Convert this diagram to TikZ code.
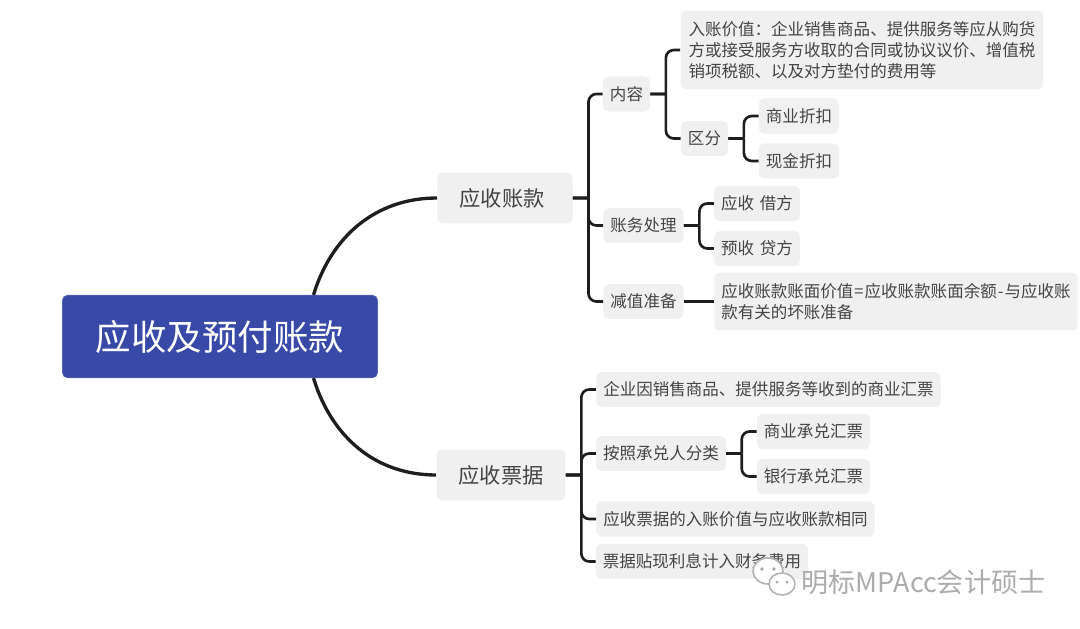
\documentclass[tikz,border=0pt]{standalone}
\usepackage{fontspec}
\setmainfont{Noto Sans CJK SC}
\usetikzlibrary{positioning, arrows}
\definecolor{rootblue}{HTML}{3949A8}
\definecolor{boxgray}{HTML}{F0F0F0}
\definecolor{textgray}{HTML}{444444}
\definecolor{linedark}{HTML}{1E1E1E}
\tikzset{
  leaf/.style={fill=boxgray, rounded corners=3pt, text=textgray, inner xsep=4pt, inner ysep=2pt,
    minimum height=20pt, align=left, font=\fontsize{9.4}{11.8}\selectfont},
  longleaf/.style={leaf, inner xsep=4.6pt, inner ysep=6.2pt},
  topic/.style={fill=boxgray, rounded corners=3pt, text=textgray, inner xsep=12.5pt,
    minimum height=29pt, font=\fontsize{12.1}{14}\selectfont},
  rootbox/.style={fill=rootblue, draw=rootblue!85!white, rounded corners=3pt, text=white, inner xsep=19pt,
    minimum height=47pt, font=\fontsize{20.2}{24}\selectfont},
  bracket/.style={line width=1.5pt, draw=linedark, rounded corners=4.5pt,
    to path={(\tikztostart) -- ++(15.5,0) (\tikztostart) ++(15.5,0) |- (\tikztotarget)}},
  bough/.style={line width=1.9pt, draw=linedark},
  wmark/.style={text=gray!65, font=\fontsize{15.4}{18}\selectfont},
  wicon/.style={draw=gray!60, fill=white, line width=0.9pt}
}
\begin{document}
\begin{tikzpicture}[x=0.02cm, y=-0.02cm]
\useasboundingbox (0,0) rectangle (1080,629);

\node[rootbox](R0) at (220,336.5) {应收及预付账款};
\node[topic, minimum width=77pt](A0) at (505,198) {应收账款\kern3.4pt};
\node[topic](B0) at (501,475) {应收票据};

\node[leaf](A1) at (626.5,94) {内容};
\node[longleaf](A2) at (862,50) {入账价值：企业销售商品、提供服务等应从购货\\方或接受服务方收取的合同或协议议价、增值税\\销项税额、以及对方垫付的费用等};
\node[leaf](A3) at (704.5,138.5) {区分};
\node[leaf](A4) at (799,116) {商业折扣};
\node[leaf](A5) at (799,161) {现金折扣};
\node[leaf](A6) at (643.5,225.5) {账务处理};
\node[leaf](A7) at (757,203.5) {应收 \hspace{1.1pt}借方};
\node[leaf](A8) at (757,248.5) {预收 \hspace{1.1pt}贷方};
\node[leaf](A9) at (643.5,301.5) {减值准备};
\node[longleaf, inner xsep=4pt](A10) at (896,301.5) {应收账款账面价值\kern.6pt=\kern.6pt应收账款账面余额\kern.6pt-\kern.6pt与应收账\\款有关的坏账准备};

\node[leaf](B1) at (768.5,389.5) {企业因销售商品、提供服务等收到的商业汇票};
\node[leaf](B2) at (661,453.5) {按照承兑人分类};
\node[leaf](B3) at (813.5,431.5) {商业承兑汇票};
\node[leaf](B4) at (813.5,476.5) {银行承兑汇票};
\node[leaf](B5) at (735.5,519) {应收票据的入账价值与应收账款相同};
\node[leaf](B6) at (702,561.5) {票据贴现利息计入财务费用};

\path(R0.24)edge[bough, out=73, in=180](A0.west);
\path(R0.-24)edge[bough, out=-73, in=180](B0.west);

\path(A0.east)edge[bracket](A1.west);
\path(A0.east)edge[bracket](A6.west);
\path(A0.east)edge[bracket](A9.west);
\path(A1.east)edge[bracket](A2.west);
\path(A1.east)edge[bracket](A3.west);
\path(A3.east)edge[bracket](A4.west);
\path(A3.east)edge[bracket](A5.west);
\path(A6.east)edge[bracket](A7.west);
\path(A6.east)edge[bracket](A8.west);
\path(A9.east)edge[line width=1.5pt, draw=linedark](A10.west);

\path(B0.east)edge[bracket](B1.west);
\path(B0.east)edge[bracket](B2.west);
\path(B0.east)edge[bracket](B5.west);
\path(B0.east)edge[bracket](B6.west);
\path(B2.east)edge[bracket](B3.west);
\path(B2.east)edge[bracket](B4.west);

%watermark
\draw[wicon] (768,571) ellipse (15 and 13);
\draw[wicon] (782,584) ellipse (13 and 11);
\fill[gray!70] (762,569) circle (1.8) (774,569) circle (1.8) (777,582) circle (1.5) (787,582) circle (1.5);
\node[wmark](W0) at (923.5,582) {明标MPAcc会计硕士};
\end{tikzpicture}
\end{document}
